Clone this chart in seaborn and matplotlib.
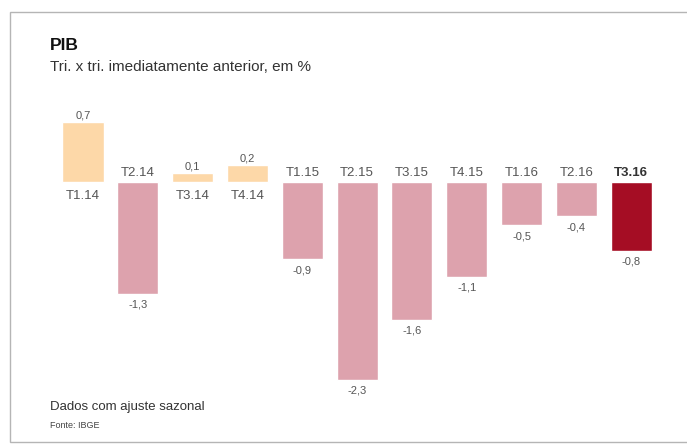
import seaborn as sns
import pandas as pd
import matplotlib.pyplot as plt
from matplotlib.patches import Rectangle

trimestres = ["T1.14", "T2.14", "T3.14", "T4.14", "T1.15", "T2.15",
              "T3.15", "T4.15", "T1.16", "T2.16", "T3.16"]
valores = [0.7, -1.3, 0.1, 0.2, -0.9, -2.3, -1.6, -1.1, -0.5, -0.4, -0.8]
rotulos = ["0,7", "-1,3", "0,1", "0,2", "-0,9", "-2,3", "-1,6", "-1,1", "-0,5", "-0,4", "-0,8"]

sns.set_style("white")
plt.rcParams['font.family'] = ['Liberation Sans', 'DejaVu Sans']

df = pd.DataFrame({"tri": trimestres, "val": valores})
cores = []
for i, v in enumerate(valores):
    if i == len(valores) - 1:
        cores.append("#A50D24")
    elif v >= 0:
        cores.append("#FDD8A8")
    else:
        cores.append("#DDA2AD")

fig = plt.figure(figsize=(6.87, 4.46), dpi=100)
# moldura
fig.patches.append(Rectangle((10 / 687, 4 / 446), 690 / 687, 430 / 446,
                             transform=fig.transFigure, facecolor="white",
                             edgecolor="#b5b5b5", linewidth=1.0, zorder=-5))

ax = fig.add_axes([55.6 / 687, 40.4 / 446, 603 / 687, 309.6 / 446])
ax.set_zorder(2)
ax.patch.set_alpha(0)
sns.barplot(data=df, x="tri", y="val", hue="tri", palette=cores, legend=False,
            width=0.75, saturation=1, ax=ax)
ax.set_xlim(-0.5, 10.5)
ax.set_ylim(-2.6, 1.0)
ax.axis("off")

for i, (v, r) in enumerate(zip(valores, rotulos)):
    ultimo = i == len(valores) - 1
    cor_cat = "#333333" if ultimo else "#555555"
    peso = "bold" if ultimo else "normal"
    if v >= 0:
        ax.text(i, v + 0.02, r, ha="center", va="bottom", fontsize=8, color="#555555")
        ax.text(i, -0.09, trimestres[i], ha="center", va="top", fontsize=9.5,
                color=cor_cat, fontweight=peso)
    else:
        ax.text(i, v - 0.07, r, ha="center", va="top", fontsize=8, color="#555555")
        ax.text(i, 0.03, trimestres[i], ha="center", va="bottom", fontsize=9.5,
                color=cor_cat, fontweight=peso)

fig.text(50 / 687, 1 - 45 / 446, "PIB", fontsize=12.5, fontweight="heavy",
         color="#111111", va="center", ha="left")
fig.text(50 / 687, 1 - 67 / 446, "Tri. x tri. imediatamente anterior, em %",
         fontsize=11, color="#333333", va="center", ha="left")
fig.text(50 / 687, 1 - 407 / 446, "Dados com ajuste sazonal",
         fontsize=9.5, color="#333333", va="center", ha="left")
fig.text(50 / 687, 1 - 425 / 446, "Fonte: IBGE",
         fontsize=6.5, color="#444444", va="center", ha="left")

fig.savefig("out.png", dpi=100)
